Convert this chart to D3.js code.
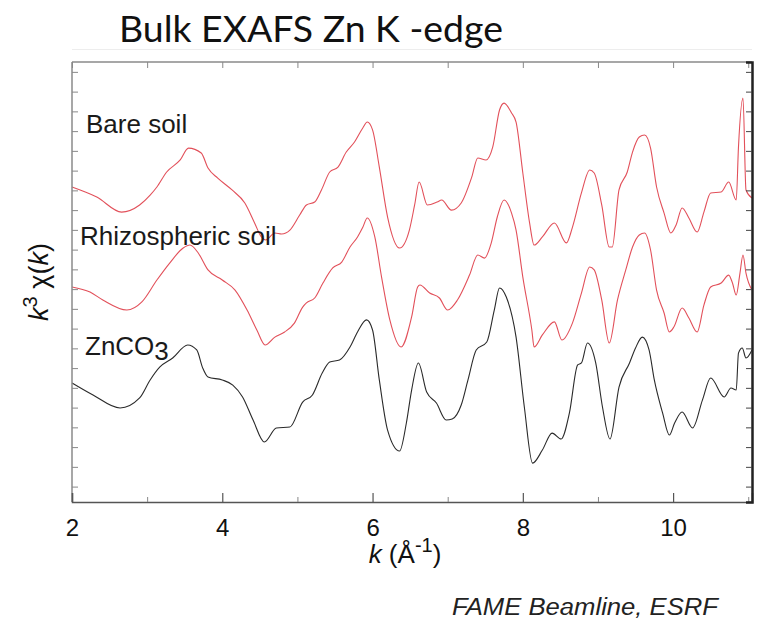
<!DOCTYPE html>
<html>
<head>
<meta charset="utf-8">
<script src="https://cdn.jsdelivr.net/npm/d3@7"></script>
<style>
  html, body { margin: 0; padding: 0; background: #fff; }
  svg { display: block; }
</style>
</head>
<body>
<svg id="chart" width="757" height="627"></svg>
<script>
// k grid (Å^-1) and stacked k^3·chi(k) spectra (arbitrary units, offsets included)
const bareK = [2.00,2.33,2.66,2.90,3.04,3.13,3.26,3.44,3.55,3.72,3.81,3.94,4.13,4.30,4.43,4.52,4.58,4.70,4.79,4.90,5.03,5.12,5.23,5.32,5.43,5.54,5.65,5.76,5.87,5.93,6.00,6.09,6.20,6.36,6.49,6.56,6.62,6.73,6.86,6.92,7.05,7.18,7.32,7.40,7.51,7.60,7.69,7.75,7.85,7.91,8.00,8.09,8.15,8.26,8.42,8.58,8.66,8.78,8.89,8.95,9.05,9.15,9.19,9.28,9.39,9.46,9.55,9.62,9.70,9.78,9.88,9.97,10.04,10.12,10.21,10.32,10.41,10.50,10.64,10.74,10.84,10.87,10.93,10.97,11.05];
const bareSoil = [15.17,14.66,13.90,14.26,14.76,15.17,15.93,16.54,17.14,16.89,16.13,15.62,15.02,14.36,13.35,12.64,12.49,12.84,12.79,12.99,13.75,14.26,14.41,15.02,15.93,16.18,16.94,17.45,18.16,18.46,18.06,16.18,13.65,12.08,12.99,14.26,15.42,14.26,14.41,14.51,14.00,14.36,15.67,16.64,16.54,17.20,19.07,19.42,18.92,18.46,15.88,13.35,12.23,12.64,13.35,12.34,13.13,14.87,16.03,15.88,14.26,12.13,12.13,15.02,15.93,16.94,17.70,17.80,17.14,15.17,13.85,12.84,13.25,14.11,13.60,12.89,13.90,14.87,14.92,15.42,14.51,17.20,19.68,15.02,14.61];

const rhizoK = [2.00,2.24,2.41,2.73,2.93,3.13,3.30,3.48,3.57,3.68,3.81,4.00,4.17,4.33,4.46,4.57,4.70,4.83,4.96,5.07,5.12,5.23,5.34,5.47,5.59,5.70,5.80,5.87,5.93,6.03,6.12,6.23,6.38,6.52,6.60,6.63,6.76,6.89,7.00,7.13,7.29,7.40,7.49,7.58,7.66,7.75,7.85,7.91,8.00,8.12,8.15,8.26,8.42,8.52,8.66,8.78,8.89,8.95,9.05,9.15,9.26,9.37,9.46,9.55,9.62,9.70,9.78,9.88,9.95,10.01,10.12,10.21,10.32,10.41,10.50,10.64,10.74,10.79,10.84,10.89,10.93,10.97,11.05];
const rhizoSoil = [10.11,9.85,9.45,8.94,9.35,10.46,11.32,12.08,12.23,11.83,10.97,10.46,9.95,8.94,7.93,7.17,7.57,7.83,8.28,9.09,9.30,9.55,10.31,11.07,11.37,12.13,12.64,13.13,13.60,12.64,10.61,8.44,7.07,8.59,10.11,10.21,9.80,9.55,8.94,9.45,10.71,11.73,11.57,12.34,13.65,14.51,13.85,12.99,10.61,7.93,7.07,7.68,8.34,7.42,8.28,9.80,11.12,10.97,9.45,7.27,9.45,10.97,12.13,12.74,12.84,11.98,9.95,8.79,7.83,8.08,9.04,8.54,7.83,9.19,10.11,10.31,10.71,10.31,9.70,10.81,11.73,10.81,9.95];

const zncoK = [2.00,2.28,2.64,2.90,3.04,3.17,3.34,3.54,3.66,3.74,3.81,4.00,4.14,4.27,4.41,4.56,4.72,4.90,5.07,5.20,5.33,5.43,5.56,5.70,5.80,5.92,6.00,6.09,6.20,6.36,6.45,6.52,6.61,6.72,6.85,6.98,7.06,7.18,7.27,7.38,7.52,7.62,7.69,7.78,7.91,8.02,8.13,8.26,8.39,8.51,8.62,8.73,8.78,8.86,8.97,9.06,9.16,9.28,9.42,9.50,9.59,9.68,9.75,9.86,9.95,10.02,10.12,10.26,10.39,10.50,10.68,10.77,10.84,10.87,10.92,10.97,11.05];
const znco3 = [5.25,4.64,3.98,4.49,5.40,6.06,6.51,7.17,6.92,6.00,5.55,5.40,5.14,4.54,3.37,2.26,2.97,3.02,4.28,4.64,5.75,6.31,6.41,7.07,7.83,8.44,7.93,5.40,2.86,1.80,3.22,4.89,6.26,4.79,4.23,3.37,3.42,4.13,5.40,6.92,7.32,8.94,10.06,9.60,7.57,4.03,1.19,1.85,2.71,2.41,3.73,6.16,6.26,7.27,6.26,4.03,2.41,5.04,6.26,7.02,7.57,6.92,5.40,3.73,2.61,3.22,3.78,2.97,4.38,5.50,4.54,4.99,4.89,6.76,7.02,6.51,6.92];

const xTicksMajor = [2, 4, 6, 8, 10];
const xTicksMinor = [3, 5, 7, 9, 11];
const yTicks = d3.range(0, 22);

const titleText = "Bulk EXAFS Zn K -edge";
const creditText = "FAME Beamline, ESRF";

const plot = { left: 72, right: 752, top: 62, bottom: 502 };

const svg = d3.select("#chart");

const x = d3.scaleLinear().domain([2, 11.05]).range([plot.left, plot.right]);
const y = d3.scaleLinear().domain([-0.78, 21.5]).range([plot.bottom, plot.top]);

// faint separator under the title
svg.append("line")
  .attr("x1", 72).attr("x2", 752).attr("y1", 49.5).attr("y2", 49.5)
  .attr("stroke", "#ededed").attr("stroke-width", 1);

// title, fitted to its width
const title = svg.append("text")
  .attr("x", 119).attr("y", 42)
  .attr("font-family", "Lato, 'Open Sans', sans-serif")
  .attr("font-size", 30)
  .attr("fill", "#111")
  .text(titleText);
{
  const w = title.node().getComputedTextLength();
  title.attr("font-size", 30 * 384 / w);
}

// curves
const seriesList = [
  { ks: bareK, vs: bareSoil, color: "#e2505a" },
  { ks: rhizoK, vs: rhizoSoil, color: "#e2505a" },
  { ks: zncoK, vs: znco3, color: "#2a2a2a" }
];
const line = d3.line()
  .x(d => x(d[0]))
  .y(d => y(d[1]))
  .curve(d3.curveMonotoneX);

const curves = svg.append("g");
seriesList.forEach(s => {
  curves.append("path")
    .datum(s.ks.map((k, i) => [k, s.vs[i]]))
    .attr("fill", "none")
    .attr("stroke", s.color)
    .attr("stroke-width", 1.1)
    .attr("stroke-linejoin", "round")
    .attr("d", line);
});

// frame
const frameColor = "#8a8a8a";
svg.append("line").attr("x1", plot.left).attr("x2", plot.right)
  .attr("y1", plot.top).attr("y2", plot.top)
  .attr("stroke", frameColor).attr("stroke-width", 1.5);
svg.append("line").attr("x1", plot.left).attr("x2", plot.left)
  .attr("y1", plot.top).attr("y2", plot.bottom)
  .attr("stroke", frameColor).attr("stroke-width", 1.5);

// bottom axis
const xAxis = d3.axisBottom(x).tickValues(xTicksMajor).tickSize(-9).tickPadding(17).tickFormat(d3.format("d"));
const gx = svg.append("g").attr("transform", `translate(0,${plot.bottom})`).call(xAxis);
gx.select(".domain").attr("stroke", "#555").attr("stroke-width", 1.5);
gx.selectAll(".tick line").attr("stroke", "#555").attr("stroke-width", 1.2);
gx.selectAll(".tick text")
  .attr("font-family", "'Liberation Sans', Arial, sans-serif")
  .attr("font-size", 24).attr("fill", "#111");
const gxMinor = svg.append("g").attr("transform", `translate(0,${plot.bottom})`)
  .call(d3.axisBottom(x).tickValues(xTicksMinor.filter(v => v <= 11.05)).tickSize(-5).tickFormat(""));
gxMinor.select(".domain").remove();
gxMinor.selectAll(".tick line").attr("stroke", "#888");

// top axis ticks
const gTop = svg.append("g").attr("transform", `translate(0,${plot.top})`)
  .call(d3.axisTop(x).tickValues(xTicksMajor.concat(xTicksMinor)).tickSize(-6).tickFormat(""));
gTop.select(".domain").remove();
gTop.selectAll(".tick line").attr("stroke", "#888");

// left axis ticks
const gLeft = svg.append("g").attr("transform", `translate(${plot.left},0)`)
  .call(d3.axisLeft(y).tickValues(yTicks).tickSize(-6).tickFormat(""));
gLeft.select(".domain").remove();
gLeft.selectAll(".tick line").attr("stroke", "#888");

// right axis (darker)
const gRight = svg.append("g").attr("transform", `translate(${plot.right},0)`)
  .call(d3.axisRight(y).tickValues(yTicks).tickSize(-6).tickFormat(""));
gRight.select(".domain").attr("stroke", "#222").attr("stroke-width", 2.5);
gRight.selectAll(".tick line").attr("stroke", "#444");

// series labels
const labelFont = "'Liberation Sans', Arial, sans-serif";
svg.append("text").attr("x", 86).attr("y", 133)
  .attr("font-family", labelFont).attr("font-size", 26).attr("fill", "#1a1a1a")
  .text("Bare soil");
svg.append("text").attr("x", 80).attr("y", 245)
  .attr("font-family", labelFont).attr("font-size", 26).attr("fill", "#1a1a1a")
  .text("Rhizospheric soil");
const zl = svg.append("text").attr("x", 85).attr("y", 355)
  .attr("font-family", labelFont).attr("font-size", 26).attr("fill", "#1a1a1a");
zl.append("tspan").text("ZnCO");
zl.append("tspan").attr("dy", 5).text("3");

// axis titles
const xt = svg.append("text").attr("x", 405).attr("y", 563)
  .attr("text-anchor", "middle")
  .attr("font-family", labelFont).attr("font-size", 26).attr("fill", "#111");
xt.append("tspan").attr("font-style", "italic").text("k");
xt.append("tspan").text(" (Å");
xt.append("tspan").attr("dy", -11).attr("font-size", 20).text("-1");
xt.append("tspan").attr("dy", 11).text(")");

const yt = svg.append("text")
  .attr("transform", "translate(48,282) rotate(-90)")
  .attr("text-anchor", "middle")
  .attr("font-family", labelFont).attr("font-size", 27).attr("fill", "#111");
yt.append("tspan").attr("font-style", "italic").text("k");
yt.append("tspan").attr("dy", -11).attr("font-size", 20).text("3");
yt.append("tspan").attr("dy", 11).text(" χ(");
yt.append("tspan").attr("font-style", "italic").text("k");
yt.append("tspan").text(")");

// credit line, fitted to its width
const credit = svg.append("text").attr("x", 718).attr("y", 615)
  .attr("text-anchor", "end")
  .attr("font-family", labelFont).attr("font-size", 23).attr("font-style", "italic")
  .attr("fill", "#222")
  .text(creditText);
{
  const w = credit.node().getComputedTextLength();
  credit.attr("textLength", 266).attr("lengthAdjust", "spacingAndGlyphs");
}
</script>
</body>
</html>
